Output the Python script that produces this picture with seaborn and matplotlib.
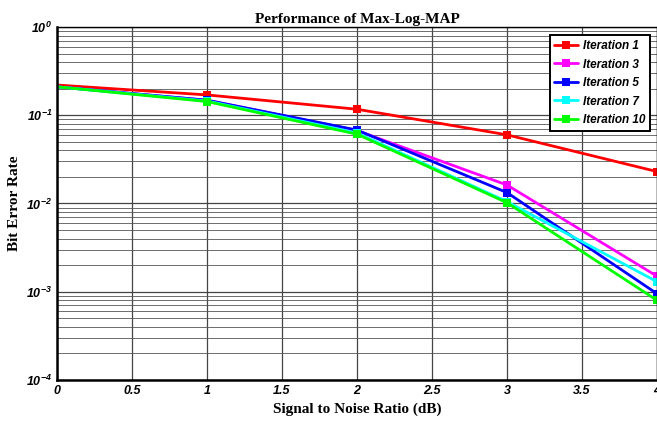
import matplotlib
matplotlib.use("Agg")
import matplotlib.pyplot as plt
import seaborn as sns
import numpy as np
import pandas as pd
from matplotlib.ticker import LogLocator, NullFormatter

snr = [0, 1, 2, 3, 4]
series_names = ["Iteration 1", "Iteration 3", "Iteration 5", "Iteration 7", "Iteration 10"]
ber_iter1 = [0.22, 0.17, 0.117, 0.060, 0.023]
ber_iter3 = [0.21, 0.148, 0.067, 0.0162, 0.0015]
ber_iter5 = [0.21, 0.148, 0.068, 0.0133, 0.00095]
ber_iter7 = [0.21, 0.145, 0.063, 0.0105, 0.0013]
ber_iter10 = [0.21, 0.143, 0.061, 0.0102, 0.00080]
colors = ["#ff0000", "#ff00ff", "#0000ff", "#00ffff", "#00ff00"]
xtick_pos = [0, 0.5, 1, 1.5, 2, 2.5, 3, 3.5, 4]
xtick_labels = ["0", "0.5", "1", "1.5", "2", "2.5", "3", "3.5", "4"]

rows = []
for name, vals in zip(series_names, [ber_iter1, ber_iter3, ber_iter5, ber_iter7, ber_iter10]):
    for x, y in zip(snr, vals):
        rows.append({"SNR": x, "BER": y, "Series": name})
df = pd.DataFrame(rows)

sns.set_theme(style="white")
plt.rcParams['font.family'] = ['Liberation Sans', 'DejaVu Sans']
plt.rcParams.update({"text.color": "black", "axes.labelcolor": "black",
                     "xtick.color": "black", "ytick.color": "black",
                     "axes.titlecolor": "black"})

fig = plt.figure(figsize=(6.57, 4.23), dpi=100)
ax = fig.add_axes([57/657, 1-380/423, 1-57/657, (380-27)/423])

sns.lineplot(data=df, x="SNR", y="BER", hue="Series", palette=colors,
             hue_order=series_names, ax=ax, linewidth=2, marker="s",
             markersize=6, markeredgewidth=0, markevery=[1, 2, 3, 4],
             legend=True)

ax.set_yscale("log")
ax.set_xlim(0, 4)
ax.set_ylim(1e-4, 1)
ax.set_xticks(xtick_pos)
ax.set_xticklabels(xtick_labels)
ax.yaxis.set_major_locator(LogLocator(base=10, numticks=10))
ax.yaxis.set_minor_locator(LogLocator(base=10, subs=np.arange(2, 10), numticks=20))
ax.yaxis.set_minor_formatter(NullFormatter())
ax.grid(True, which="major", color="#444444", linewidth=0.9)
ax.grid(True, which="minor", axis="y", color="#555555", linewidth=0.6)
ax.tick_params(direction="in", which="both", length=3, width=1, colors="black")
ax.tick_params(which="minor", length=2)
fig.canvas.draw()
for lbl in ax.get_xticklabels() + ax.get_yticklabels():
    lbl.set_fontweight("bold")
    lbl.set_fontstyle("italic")
    lbl.set_fontsize(9)
    lbl.set_color("black")
for sp in ["left", "bottom"]:
    ax.spines[sp].set_linewidth(1.8)
    ax.spines[sp].set_color("black")
for sp in ["top", "right"]:
    ax.spines[sp].set_linewidth(1.0)
    ax.spines[sp].set_color("black")

ax.set_title("Performance of Max-Log-MAP", fontfamily="Liberation Serif",
             fontweight="bold", fontsize=11, pad=3, color="black")
ax.set_xlabel("Signal to Noise Ratio (dB)", fontfamily="Liberation Serif",
              fontweight="bold", fontsize=11, labelpad=4, color="black")
ax.set_ylabel("Bit Error Rate", fontfamily="Liberation Serif",
              fontweight="bold", fontsize=11, labelpad=4, color="black")

leg = ax.legend(loc="upper right", bbox_to_anchor=(0.998, 0.993),
                prop={"weight": "bold", "style": "italic", "size": 8.5},
                frameon=True, fancybox=False, edgecolor="black",
                handlelength=2.0, borderpad=0.4, labelspacing=0.55,
                handletextpad=0.4)
leg.get_frame().set_linewidth(1.4)
leg.get_frame().set_alpha(1)
for t in leg.get_texts():
    t.set_color("black")

fig.savefig("out.png", dpi=100)
